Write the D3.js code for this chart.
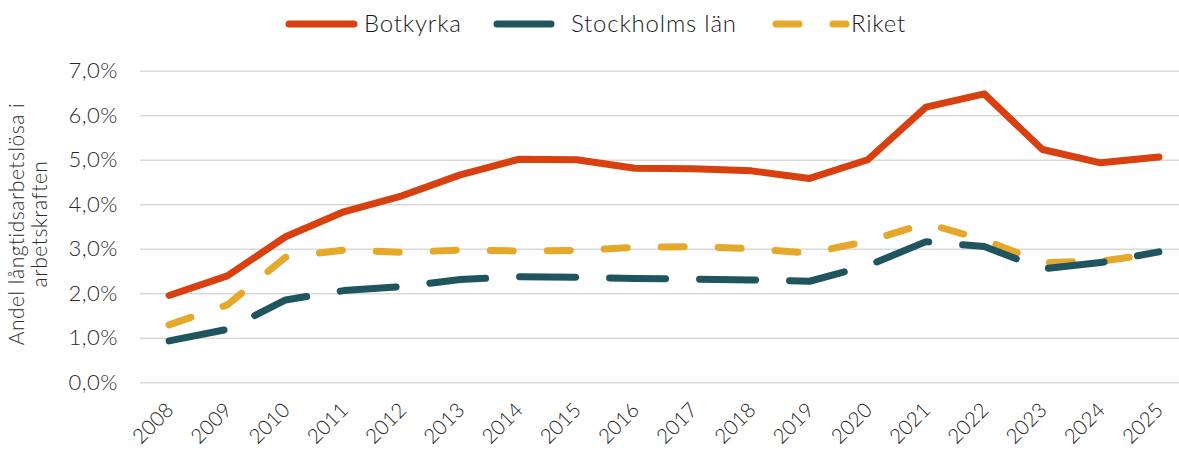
<!DOCTYPE html>
<html>
<head>
<meta charset="utf-8">
<script src="https://cdn.jsdelivr.net/npm/d3@7"></script>
<style>
  body { margin: 0; background: #fff; }
  svg { display: block; font-family: Lato, 'Open Sans', sans-serif; font-weight: 300; }
</style>
</head>
<body>
<svg id="chart"></svg>
<script>
const years = ['2008', '2009', '2010', '2011', '2012', '2013', '2014', '2015', '2016',
  '2017', '2018', '2019', '2020', '2021', '2022', '2023', '2024', '2025']
const botkyrka = [1.95, 2.39, 3.27, 3.83, 4.19, 4.66, 5.01, 5.0, 4.81, 4.8, 4.75, 4.58,
  5.0, 6.18, 6.48, 5.23, 4.93, 5.06]
const stockholm = [0.93, 1.19, 1.85, 2.06, 2.15, 2.31, 2.37, 2.36, 2.33, 2.32, 2.3, 2.27,
  2.62, 3.16, 3.05, 2.55, 2.69, 2.93]
const riket = [1.29, 1.74, 2.81, 2.97, 2.92, 2.97, 2.95, 2.96, 3.03, 3.05, 3.0, 2.9,
  3.17, 3.57, 3.2, 2.69, 2.72, 2.9]
const yTicks = [0, 1, 2, 3, 4, 5, 6, 7]

const series = [
  { name: 'Botkyrka', values: botkyrka, color: '#d9400f', dash: null },
  { name: 'Stockholms län', values: stockholm, color: '#1f555e', dash: '56,34' },
  { name: 'Riket', values: riket, color: '#e6a82a', dash: '23,34' }
]

const W = 1179, H = 450
const margin = { left: 140, right: 1188, top: 70.7, bottom: 382.3 }

const sv = d3.formatLocale({ decimal: ',', thousands: ' ', grouping: [3], currency: ['', ' kr'] })
const fmt = sv.format('.1f')

const svg = d3.select('#chart').attr('width', W).attr('height', H)

const x = d3.scalePoint().domain(years).range([margin.left, margin.right]).padding(0.5)
const y = d3.scaleLinear().domain([0, 7]).range([margin.bottom, margin.top])

// gridlines + y labels
const yAxis = svg.append('g')
  .attr('transform', `translate(${margin.left},0)`)
  .call(d3.axisLeft(y).tickValues(yTicks).tickSize(-(margin.right - margin.left)).tickPadding(22)
    .tickFormat(d => fmt(d) + '%'))
yAxis.select('.domain').remove()
yAxis.selectAll('.tick line').attr('stroke', '#d9d9d9').attr('stroke-width', 1.6)
yAxis.selectAll('.tick text').attr('fill', '#2a2a2a').attr('font-size', 22)
  .style('font-family', 'Lato, sans-serif').style('font-weight', 300)
  .style('letter-spacing', '0.5px')

// x labels
const xAxis = svg.append('g')
  .attr('transform', `translate(0,${margin.bottom})`)
  .call(d3.axisBottom(x).tickSize(0))
xAxis.select('.domain').remove()
xAxis.selectAll('.tick text')
  .attr('fill', '#1a1a1a').attr('font-size', 20.5)
  .style('font-family', 'Lato, sans-serif').style('font-weight', 300)
  .attr('text-anchor', 'end')
  .attr('dy', 0)
  .attr('transform', 'translate(3,27) rotate(-45)')

// lines
const line = d3.line().x((d, i) => x(years[i])).y(d => y(d))
svg.append('g').selectAll('path')
  .data(series.slice().reverse())
  .join('path')
  .attr('d', d => line(d.values))
  .attr('fill', 'none')
  .attr('stroke', d => d.color)
  .attr('stroke-width', 7)
  .attr('stroke-linecap', 'round')
  .attr('stroke-linejoin', 'round')
  .attr('stroke-dasharray', d => d.dash)

// y title
const yt = svg.append('text')
  .attr('transform', 'translate(24,224) rotate(-90)')
  .attr('text-anchor', 'middle')
  .attr('fill', '#2a2a2a')
  .attr('font-size', 21)
  .style('letter-spacing', '0.5px')
yt.append('tspan').attr('x', 0).attr('dy', 0).text('Andel långtidsarbetslösa i')
yt.append('tspan').attr('x', 0).attr('dy', 23).text('arbetskraften')

// legend
const legend = [
  { s: series[0], x1: 289, x2: 354, tx: 364 },
  { s: series[1], x1: 497, x2: 551, tx: 571 },
  { s: series[2], x1: 776, x2: 846, tx: 851 }
]
const lg = svg.append('g')
legend.forEach(l => {
  lg.append('line')
    .attr('x1', l.x1).attr('x2', l.x2).attr('y1', 24).attr('y2', 24)
    .attr('stroke', l.s.color).attr('stroke-width', 7).attr('stroke-linecap', 'round')
    .attr('stroke-dasharray', l.s.name === 'Riket' ? '23,34' : null)
  lg.append('text')
    .attr('x', l.tx).attr('y', 32)
    .attr('fill', '#1a1a1a').attr('font-size', 24)
    .style('letter-spacing', '0.8px')
    .text(l.s.name)
})
</script>
</body>
</html>
